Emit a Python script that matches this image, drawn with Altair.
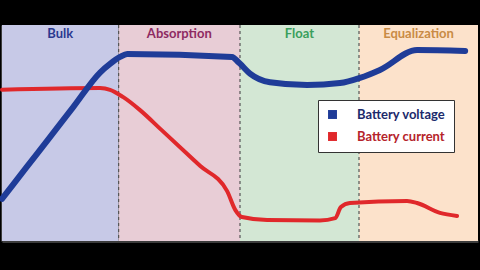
import altair as alt
import pandas as pd

# Phases (time axis 0-100, arbitrary units)
phase_names = ["Bulk", "Absorption", "Float", "Equalization"]
phase_start = [0, 24.5, 50, 75]
phase_end = [24.5, 50, 75, 100]
phase_bg = ["#c7c9e7", "#e8cdd6", "#d3e7d4", "#fce2cb"]
phase_text = ["#2b3990", "#8e2a62", "#3a9f5c", "#c98b45"]
boundaries = [24.5, 50, 75]

# Battery voltage (arbitrary units 0-100)
volt_t = [0, 5, 10, 15, 20.6, 22.7, 24.8, 26.3, 48.3, 49.8, 52.1, 56.3, 64.1, 71, 75.2, 79.4, 87.2, 97.3]
volt_v = [19.5, 33.7, 47.9, 62.1, 78, 82, 85.2, 86.6, 85.2, 82.5, 77.5, 73.5, 72.2, 73.1, 75.5, 79.2, 88.4, 88]

# Battery current (arbitrary units 0-100)
curr_t = [0, 20.6, 22.7, 25.4, 29, 33.6, 41.6, 47.3, 49, 50.4, 55.7, 66.8, 70, 71.2, 73.1, 85.1, 87.2, 92, 95.6]
curr_v = [70, 70.8, 70, 66.7, 60.6, 51.2, 34.8, 23.1, 14.4, 11.1, 9.7, 9.5, 10.6, 15.7, 17.6, 18.5, 17.6, 13, 11.6]

series_names = ["Battery voltage", "Battery current"]
series_colors = ["#1f3c98", "#e0282b"]
label_colors = ["#1c2a6b", "#b5232a"]

phases = pd.DataFrame({
    "phase": phase_names, "start": phase_start, "end": phase_end,
    "bg": phase_bg, "tc": phase_text,
    "mid": [(a + b) / 2 for a, b in zip(phase_start, phase_end)],
    "ty": [96] * 4,
})
bounds = pd.DataFrame({"t": boundaries})
volt = pd.DataFrame({"t": volt_t, "v": volt_v, "series": series_names[0]})
curr = pd.DataFrame({"t": curr_t, "v": curr_v, "series": series_names[1]})

FONT = "Lato"
xs = alt.Scale(domain=[0, 100], nice=False, zero=False)
ys = alt.Scale(domain=[0, 100], nice=False, zero=False)
xax = alt.Axis(labels=False, ticks=False, grid=False, title=None, domainColor="#3c3c3c", domainWidth=3)
yax = alt.Axis(labels=False, ticks=False, grid=False, title=None, domainColor="#3c3c3c", domainWidth=3)

bg = alt.Chart(phases).mark_rect().encode(
    x=alt.X("start:Q", scale=xs, axis=xax),
    x2="end:Q",
    y=alt.Y(datum=0, scale=ys, axis=yax),
    y2=alt.Y2(datum=100),
    fill=alt.Fill("bg:N", scale=None),
)

rules = alt.Chart(bounds).mark_rule(color="#555555", strokeDash=[3, 3], strokeWidth=1.2).encode(
    x=alt.X("t:Q", scale=xs)
)

titles = alt.Chart(phases).mark_text(font=FONT, fontWeight="bold", fontSize=13, baseline="middle").encode(
    x=alt.X("mid:Q", scale=xs),
    y=alt.Y("ty:Q", scale=ys),
    text="phase:N",
    fill=alt.Fill("tc:N", scale=None),
)

lab_expr = "datum.value == '%s' ? '%s' : '%s'" % (series_names[0], label_colors[0], label_colors[1])
sym_expr = "datum.value == '%s' ? '%s' : '%s'" % (series_names[0], series_colors[0], series_colors[1])

color_scale = alt.Scale(domain=series_names, range=series_colors)
legend = alt.Legend(
    title=None, orient="none", legendX=316, legendY=75,
    symbolType="square", symbolSize=80, symbolStrokeWidth=0,
    symbolFillColor=alt.ExprRef(sym_expr),
    labelColor=alt.ExprRef(lab_expr),
    labelFont=FONT, labelFontWeight="bold", labelFontSize=13, labelOffset=18,
    rowPadding=8, padding=8, fillColor="white", strokeColor="#333333",
)

line_c = alt.Chart(curr).mark_line(strokeWidth=4, interpolate="monotone", strokeCap="round").encode(
    x=alt.X("t:Q", scale=xs), y=alt.Y("v:Q", scale=ys),
    color=alt.Color("series:N", scale=color_scale, legend=legend),
)
line_v = alt.Chart(volt).mark_line(strokeWidth=6, interpolate="monotone", strokeCap="round").encode(
    x=alt.X("t:Q", scale=xs), y=alt.Y("v:Q", scale=ys),
    color=alt.Color("series:N", scale=color_scale, legend=legend),
)

chart = alt.layer(bg, rules, line_c, line_v, titles).properties(
    width=476, height=216,
    autosize=alt.AutoSizeParams(type="none"),
    padding={"left": 2, "top": 25, "right": 2, "bottom": 29},
    background="black",
).configure_view(stroke=None)

chart.save("out.html", embed_options={"renderer": "svg", "actions": False})
